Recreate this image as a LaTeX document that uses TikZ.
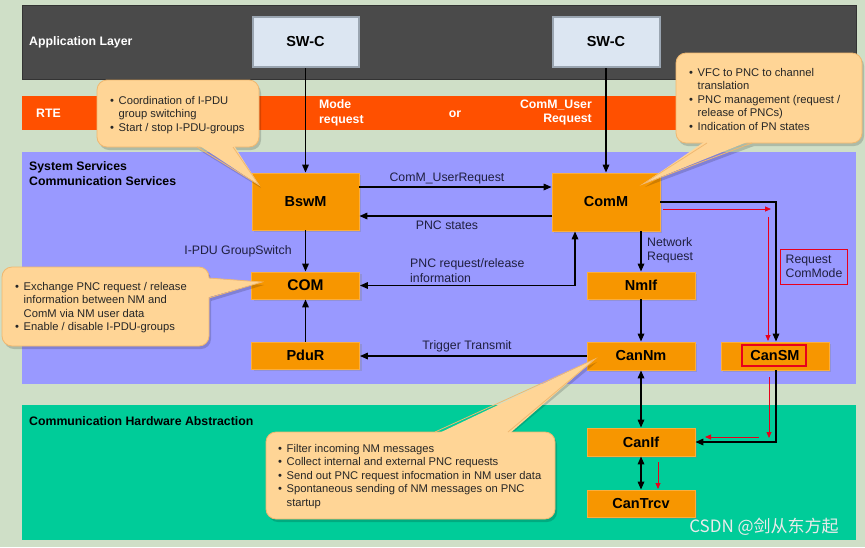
\documentclass[tikz,border=0pt]{standalone}
\usepackage{fontspec}
\setmainfont{Liberation Sans}
\newfontfamily\cjkfont{Noto Sans CJK SC}
\usetikzlibrary{arrows.meta,shadows}
\definecolor{bgc}{HTML}{CFDFC7}
\definecolor{appc}{HTML}{4A4A4A}
\definecolor{rtec}{HTML}{FF5000}
\definecolor{ssc}{HTML}{9999FF}
\definecolor{hwc}{HTML}{00CC99}
\definecolor{modc}{HTML}{F79600}
\definecolor{modb}{HTML}{FBAE3C}
\definecolor{swcc}{HTML}{DCE6F2}
\definecolor{swcb}{HTML}{9AA5B1}
\definecolor{cofill}{HTML}{FFD596}
\definecolor{coline}{HTML}{F0B870}
\definecolor{lblc}{HTML}{1F1F3F}
\definecolor{redc}{HTML}{E8001C}
\newcommand\cbul{\makebox[8.5pt][l]{\textbullet}}
\newcommand\cind{\hspace*{8.5pt}}
\tikzset{
  mod/.style={draw=modb, fill=modc, line width=0.8pt, inner sep=0pt,
    font=\fontsize{14.5}{16}\selectfont\bfseries,
    drop shadow={shadow xshift=2pt, shadow yshift=-2pt, opacity=0.3}},
  swc/.style={draw=swcb, fill=swcc, line width=2pt, inner sep=0pt,
    font=\fontsize{14.5}{16}\selectfont\bfseries},
  arr/.style={line width=1.6pt, -{Triangle[length=8pt,width=6.5pt]}},
  darr/.style={line width=1.6pt, {Triangle[length=8pt,width=6.5pt]}-{Triangle[length=8pt,width=6.5pt]}},
  rarr/.style={draw=redc, line width=0.8pt, -{Triangle[length=6pt,width=5pt]}},
  lbl/.style={font=\fontsize{12.3}{14.5}\selectfont, text=lblc, inner sep=0pt},
  layerw/.style={font=\fontsize{12.3}{14.5}\selectfont\bfseries, text=white, inner sep=0pt},
  layerb/.style={font=\fontsize{12.3}{14.5}\selectfont\bfseries, text=black, inner sep=0pt},
  cotext/.style={font=\fontsize{11.2}{13.5}\selectfont, text=black!85, inner sep=0pt, align=left, anchor=base west},
  coshadow/.style={fill=black, opacity=0.16},
}
\begin{document}
\begin{tikzpicture}[x=1pt,y=-1pt]
\useasboundingbox (0,0) rectangle (865,547);
\fill[bgc] (0,0) rectangle (865,547);
% layers
\filldraw[fill=appc, draw=black!80, line width=0.8pt] (22,5) rectangle (856,79);
\fill[rtec] (22,96) rectangle (856,130);
\fill[ssc] (22,152) rectangle (856,384);
\fill[hwc] (22,405) rectangle (856,540);
% layer texts
\node[layerw, anchor=west] (tapp) at (29,42) {Application Layer};
\node[layerw, anchor=west] (trte) at (36,113) {RTE};
\node[layerw, anchor=west, align=left] (tmode) at (319,113) {Mode\\request};
\node[layerw] (tor) at (455,114) {or};
\node[layerw, anchor=east, align=right] (tcur) at (592,112.5) {ComM\_User\\Request};
\node[layerb, anchor=west, align=left] (tss) at (29,173.5) {System Services\\Communication Services};
\node[layerb, anchor=west] (thw) at (29,421) {Communication Hardware Abstraction};
% helper coordinates
\coordinate (h1) at (0,187);
\coordinate (h2) at (0,216);
\coordinate (h5) at (0,202);
\coordinate (v1) at (575,0);
\coordinate (v2) at (776,0);
% modules
\node[swc, minimum width=106pt, minimum height=50pt] (swcL) at (305.5,42) {SW-C};
\node[swc, minimum width=107pt, minimum height=50pt] (swcR) at (606,42) {SW-C};
\node[mod, minimum width=107pt, minimum height=57pt] (bswm) at (305.5,201.5) {BswM};
\node[mod, minimum width=108pt, minimum height=58pt] (comm) at (606,202) {ComM};
\node[mod, minimum width=108pt, minimum height=27pt, font=\fontsize{15.5}{17}\selectfont\bfseries] (com) at (305.5,285.5) {COM};
\node[mod, minimum width=108pt, minimum height=27pt] (pdur) at (305.5,355.5) {PduR};
\node[mod, minimum width=108pt, minimum height=27pt] (nmif) at (641,285.5) {NmIf};
\node[mod, minimum width=108pt, minimum height=28pt] (cannm) at (641,356) {CanNm};
\node[mod, minimum width=108pt, minimum height=28pt] (cansm) at (775,356) {CanSM};
\node[draw=redc, line width=1.2pt, minimum width=64pt, minimum height=21pt, inner sep=0pt] (cansmhl) at (774,355.5) {};
\node[mod, minimum width=108pt, minimum height=28pt] (canif) at (641,442) {CanIf};
\node[mod, minimum width=108pt, minimum height=27pt] (cantrcv) at (641,503.5) {CanTrcv};
% connectors
\draw[arr] (swcL) -- (bswm);
\draw[arr] (swcR) -- (comm);
\draw[arr] (bswm.east |- h1) -- (comm.west |- h1);
\draw[arr] (comm.west |- h2) -- (bswm.east |- h2);
\draw[arr] (bswm) -- (com);
\draw[arr] (pdur) -- (com);
\draw[darr] (com.east) -- (v1 |- com.east) -- (v1 |- comm.south);
\draw[arr] (cannm.west) -- (pdur.east |- cannm.west);
\draw[arr] (nmif.north |- comm.south) -- (nmif.north);
\draw[arr] (nmif) -- (cannm);
\draw[darr] (cannm) -- (canif);
\draw[darr] (canif) -- (cantrcv);
\draw[arr] (comm.east |- h5) -- (v2 |- h5) -- (v2 |- cansm.north);
\draw[arr] (v2 |- cansm.south) -- (v2 |- canif.east) -- (canif.east);
% red indications
\coordinate (ra) at (663,209);
\coordinate (rb) at (771,209);
\coordinate (rc) at (768,217);
\coordinate (rd) at (768,341);
\coordinate (re) at (769,377);
\coordinate (rf) at (769,438);
\coordinate (rg) at (759,437);
\coordinate (rh) at (705,437);
\coordinate (ri) at (658,462);
\coordinate (rj) at (658,489);
\draw[rarr] (ra) -- (rb);
\draw[rarr] (rc) -- (rd);
\draw[rarr] (re) -- (rf);
\draw[rarr] (rg) -- (rh);
\draw[rarr] (ri) -- (rj);
\node[draw=redc, line width=1pt, lbl, align=left, anchor=west, minimum width=67pt, minimum height=35pt, inner xsep=5pt] (rcm) at (780,266.5) {Request\\ComMode};
% connector labels
\node[lbl] (lur) at (447,178) {ComM\_UserRequest};
\node[lbl] (lpnc) at (447,225) {PNC states};
\node[lbl, anchor=west, align=left] (lprr) at (410,270.5) {PNC request/release\\information};
\node[lbl] (ltt) at (467,346) {Trigger Transmit};
\node[lbl] (lig) at (238,251) {I-PDU GroupSwitch};
\node[lbl, anchor=west, align=left] (lnr) at (647,250.5) {Network\\Request};
% callout A (BswM)
\begin{scope}[shift={(2,3)}]
\fill[coshadow] (97,80) [rounded corners=10pt] rectangle (259,147);
\fill[coshadow] (197,147) -- (259,185) -- (233,147) -- cycle;
\end{scope}
\filldraw[fill=cofill, draw=coline, line width=0.8pt, rounded corners=10pt] (97,80) rectangle (259,147);
\fill[cofill] (197,144) -- (259,185) -- (233,144) -- cycle;
\draw[coline, line width=0.8pt] (197,147) -- (259,185) -- (233,147);
\node[cotext] (ca) at (110,131) {\cbul Coordination of I-PDU\\\cind group switching\\\cbul Start / stop I-PDU-groups};
% callout B (ComM)
\begin{scope}[shift={(2,3)}]
\fill[coshadow] (676,53) [rounded corners=10pt] rectangle (862,143);
\fill[coshadow] (707,143) -- (643,184) -- (752,143) -- cycle;
\end{scope}
\filldraw[fill=cofill, draw=coline, line width=0.8pt, rounded corners=10pt] (676,53) rectangle (862,143);
\fill[cofill] (707,140) -- (643,184) -- (752,140) -- cycle;
\draw[coline, line width=0.8pt] (707,143) -- (643,184) -- (752,143);
\node[cotext] (cb) at (689,130) {\cbul VFC to PNC to channel\\\cind translation\\\cbul PNC management (request /\\\cind release of PNCs)\\\cbul Indication of PN states};
% callout C (COM)
\begin{scope}[shift={(2,3)}]
\fill[coshadow] (2,267) [rounded corners=10pt] rectangle (209,346);
\fill[coshadow] (209,278) -- (262,282) -- (209,298) -- cycle;
\end{scope}
\filldraw[fill=cofill, draw=coline, line width=0.8pt, rounded corners=10pt] (2,267) rectangle (209,346);
\fill[cofill] (206,278) -- (262,282) -- (206,298) -- cycle;
\draw[coline, line width=0.8pt] (209,278) -- (262,282) -- (209,298);
\node[cotext] (cc) at (15,330.5) {\cbul Exchange PNC request / release\\\cind information between NM and\\\cind ComM via NM user data\\\cbul Enable / disable I-PDU-groups};
% callout D (CanNm)
\begin{scope}[shift={(2,3)}]
\fill[coshadow] (266,432) [rounded corners=10pt] rectangle (555,519);
\fill[coshadow] (435,432) -- (595,359) -- (508,432) -- cycle;
\end{scope}
\filldraw[fill=cofill, draw=coline, line width=0.8pt, rounded corners=10pt] (266,432) rectangle (555,519);
\fill[cofill] (435,435) -- (595,359) -- (508,435) -- cycle;
\draw[coline, line width=0.8pt] (435,432) -- (595,359) -- (508,432);
\node[cotext] (cd) at (278,506) {\cbul Filter incoming NM messages\\\cbul Collect internal and external PNC requests\\\cbul Send out PNC request infocmation in NM user data\\\cbul Spontaneous sending of NM messages on PNC\\\cind startup};
% watermark
\node[font=\cjkfont\fontsize{17}{19}\selectfont, text=black!8, inner sep=0pt] (wm) at (764,527) {CSDN @剑从东方起};
\end{tikzpicture}
\end{document}
